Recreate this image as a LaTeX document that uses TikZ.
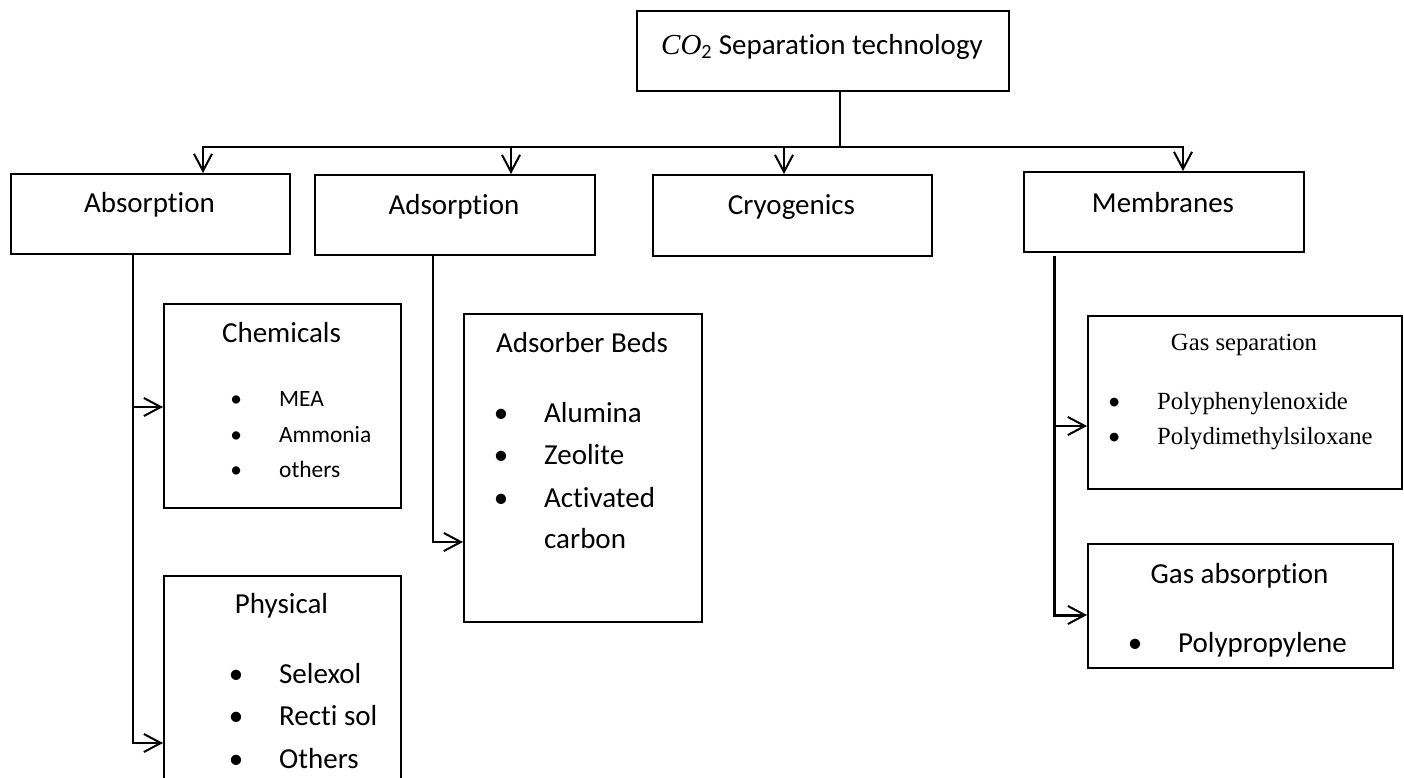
\documentclass[tikz,border=0pt]{standalone}
\usepackage{fontspec}
\setmainfont[Ligatures=NoCommon]{Carlito}
\newfontfamily\gasfont{Liberation Serif}
\usetikzlibrary{arrows.meta}

\newcommand{\bul}{\llap{\makebox[86pt]{\normalfont\textbullet}}}

\begin{document}
\begin{tikzpicture}[x=1pt, y=-1pt,
    box/.style={draw=black, line width=2pt, rectangle, inner sep=0pt,
        anchor=north west},
    title/.style={anchor=mid, inner sep=0pt, font=\fontsize{29}{35}\selectfont},
    item/.style={anchor=mid west, inner sep=0pt, font=\fontsize{29}{35}\selectfont},
    smallitem/.style={item, font=\fontsize{23.4}{28}\selectfont},
    gasitem/.style={item, font=\gasfont\fontsize{24.7}{30}\selectfont},
    link/.style={line width=2pt},
    arr/.style={line width=2pt,
        -{Straight Barb[length=17pt, width=18pt, line width=2pt]}}
]
    \useasboundingbox (0,0) rectangle (1404,778);

    % boxes
    \node[box, minimum width=372pt, minimum height=80pt] (top) at (636,10) {};
    \node[box, minimum width=279pt, minimum height=80pt] (absorb) at (10,173) {};
    \node[box, minimum width=280pt, minimum height=80pt] (adsorb) at (314,174) {};
    \node[box, minimum width=279pt, minimum height=81pt] (cryo) at (652,174) {};
    \node[box, minimum width=280pt, minimum height=80pt] (membr) at (1023,171) {};
    \node[box, minimum width=237pt, minimum height=204pt] (chem) at (163,303) {};
    \node[box, minimum width=237pt, minimum height=330pt] (phys) at (163,575) {};
    \node[box, minimum width=238pt, minimum height=308pt] (beds) at (463,313) {};
    \node[box, minimum width=314pt, minimum height=173pt] (gassep) at (1087,315) {};
    \node[box, minimum width=305pt, minimum height=124pt] (gasabs) at (1087,543) {};

    % texts
    \node[title] (topT) at (822,52)
        {{\gasfont\itshape CO}\textsubscript{2} Separation technology};
    \node[title] (absorbT) at (149.5,210) {Absorption};
    \node[title] (adsorbT) at (454,212) {Adsorption};
    \node[title] (cryoT) at (791.5,212) {Cryogenics};
    \node[title] (membrT) at (1163,210) {Membranes};

    \node[title] (chemT) at (281.5,340) {Chemicals};
    \node[smallitem] (chem1) at (279,404) {\bul MEA};
    \node[smallitem] (chem2) at (279,440) {\bul Ammonia};
    \node[smallitem] (chem3) at (279,475) {\bul others};

    \node[title] (physT) at (281.5,611) {Physical};
    \node[item] (phys1) at (279,681) {\bul Selexol};
    \node[item] (phys2) at (279,723) {\bul Recti sol};
    \node[item] (phys3) at (279,766) {\bul Others};

    \node[title] (bedsT) at (582,350) {Adsorber Beds};
    \node[item] (beds1) at (544,420) {\bul Alumina};
    \node[item] (beds2) at (544,462) {\bul Zeolite};
    \node[item] (beds3) at (544,505) {\bul Activated};
    \node[item] (beds4) at (544,546) {carbon};

    \node[title, font=\gasfont\fontsize{24.7}{30}\selectfont] (gassepT) at (1244,348)
        {Gas separation};
    \node[gasitem] (gassep1) at (1157,407) {\bul Polyphenylenoxide};
    \node[gasitem] (gassep2) at (1157,442) {\bul Polydimethylsiloxane};

    \node[title] (gasabsT) at (1239.5,581) {Gas absorption};
    \node[item] (gasabs1) at (1178,650) {\bul Polypropylene};

    % connectors
    \coordinate (bus) at (840,147);
    \coordinate (absorbin) at (203,173);
    \coordinate (adsorbin) at (511,174);
    \coordinate (cryoin) at (784,174);
    \coordinate (membrin) at (1183,171);
    \draw[link] (top.south -| bus) -- (bus);
    \draw[arr] (bus) -| (absorbin);
    \draw[arr] (bus) -| (adsorbin);
    \draw[arr] (bus) -| (cryoin);
    \draw[arr] (bus) -| (membrin);

    \coordinate (abstrunk) at (133,253);
    \coordinate (chemin) at (163,407);
    \coordinate (physin) at (163,743);
    \draw[arr] (abstrunk) |- (physin);
    \draw[arr] (abstrunk |- chemin) -- (chemin);

    \coordinate (adstrunk) at (433,254);
    \coordinate (bedsin) at (463,542);
    \draw[arr] (adstrunk) |- (bedsin);

    \coordinate (memtrunk) at (1054,256);
    \coordinate (gassepin) at (1087,426);
    \coordinate (gasabsin) at (1087,615);
    \draw[arr, line width=3pt] (memtrunk) |- (gasabsin);
    \draw[arr] (memtrunk |- gassepin) -- (gassepin);
\end{tikzpicture}
\end{document}
